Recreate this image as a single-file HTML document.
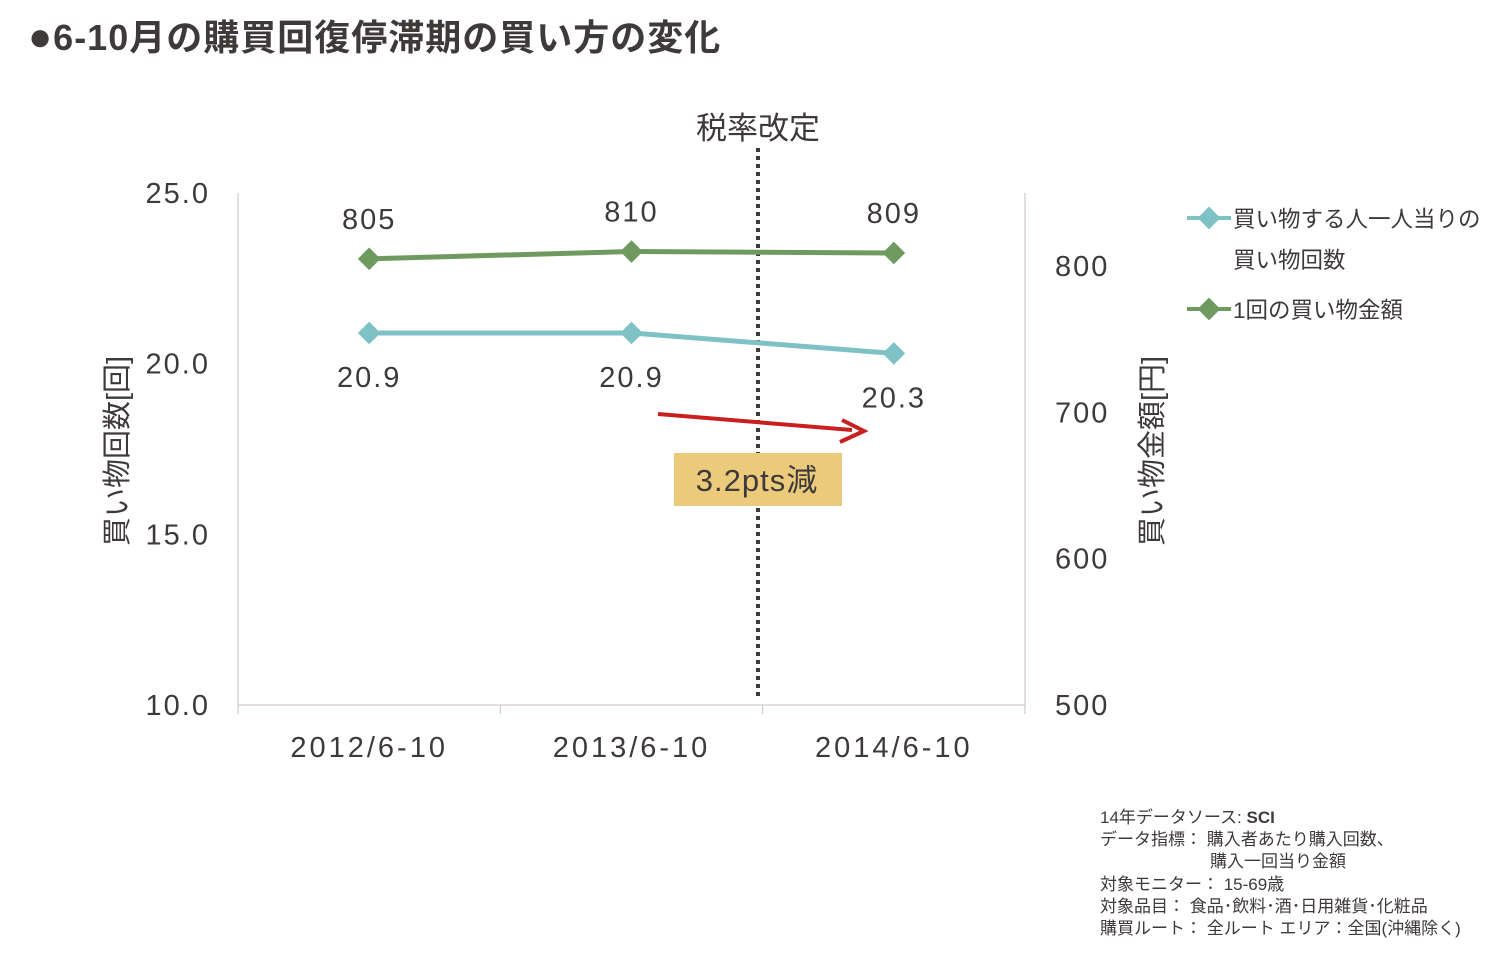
<!DOCTYPE html>
<html><head><meta charset="utf-8"><style>
body{margin:0;width:1497px;height:951px;background:#fff;overflow:hidden;font-family:"Liberation Sans","Noto Sans CJK JP",sans-serif;color:#3e3a39}
svg text{font-family:"Liberation Sans","Noto Sans CJK JP",sans-serif;fill:#3e3a39}
.num{letter-spacing:2px}
</style></head><body>
<svg id="c" width="1497" height="951">
<text x="28" y="50" font-size="36" font-weight="bold" fill="#3b2f2a" letter-spacing="1"><tspan font-size="40">●</tspan>6-10月の購買回復停滞期の買い方の変化</text>
<g id="g"></g>
<g font-size="17">
<text x="1100" y="823">14年データソース: <tspan font-weight="bold">SCI</tspan></text>
<text x="1100" y="845">データ指標： 購入者あたり購入回数、</text>
<text x="1210" y="867">購入一回当り金額</text>
<text x="1100" y="890">対象モニター： 15-69歳</text>
<text x="1100" y="912">対象品目： 食品･飲料･酒･日用雑貨･化粧品</text>
<text x="1100" y="934">購買ルート： 全ルート エリア：全国(沖縄除く)</text>
</g>
</svg>
<script>
const categories=["2012/6-10","2013/6-10","2014/6-10"];
const countValues=[20.9,20.9,20.3];
const amountValues=[805,810,809];
const leftTicks=[10,15,20,25];
const rightTicks=[500,600,700,800];
const L=238,R=1025,T=193,B=705;
const yL=v=>B-(v-10)/15*(B-T);
const yR=v=>B-(v-500)/350*(B-T);
const bw=(R-L)/categories.length;
const x=i=>L+bw*(i+0.5);
const g=document.getElementById('g');
const NS='http://www.w3.org/2000/svg';
function mk(t,a,txt){const e=document.createElementNS(NS,t);for(const k in a)e.setAttribute(k,a[k]);if(txt!==undefined)e.textContent=txt;g.appendChild(e);return e;}
let e;
e=mk('line',{x1:L,y1:T,x2:L,y2:B,stroke:'#c9bfbd'});


e=mk('line',{x1:R,y1:T,x2:R,y2:B,stroke:'#c9bfbd'});


e=mk('line',{x1:L,y1:B,x2:R,y2:B,stroke:'#c9bfbd'});


for(let i=0;i<=categories.length;i++){e=mk('line',{x1:L+bw*i,y1:B,x2:L+bw*i,y2:B+9,stroke:'#c9bfbd'});

}
categories.forEach((c,i)=>{e=mk('text',{x:x(i),y:757,'font-size':29,'text-anchor':'middle','letter-spacing':3},c);

});
leftTicks.forEach(v=>{e=mk('text',{x:210,y:yL(v)+10,'font-size':29,'text-anchor':'end','letter-spacing':2},v.toFixed(1));

});
rightTicks.forEach(v=>{e=mk('text',{x:1055,y:yR(v)+10,'font-size':29,'letter-spacing':2},String(v));

});
e=mk('text',{x:0,y:0,'font-size':29,'text-anchor':'middle',transform:'translate(127,451) rotate(-90)'},'買い物回数[回]');


e=mk('text',{x:0,y:0,'font-size':29,'text-anchor':'middle',transform:'translate(1162,451) rotate(-90)'},'買い物金額[円]');


e=mk('line',{x1:758,y1:148,x2:758,y2:700,stroke:'#3e3a39','stroke-width':4,'stroke-dasharray':'4 4'});


e=mk('text',{x:758,y:139,'font-size':31,'text-anchor':'middle',fill:'#000'},'税率改定');


function series(vals,yf,col,name,fmt,dy){
 e=mk('polyline',{points:vals.map((v,i)=>x(i)+','+yf(v)).join(' '),fill:'none',stroke:col,'stroke-width':5});
 
 
 vals.forEach((v,i)=>{
  e=mk('rect',{x:x(i)-8,y:yf(v)-8,width:16,height:16,fill:col,transform:`rotate(45 ${x(i)} ${yf(v)})`});
  
  
  e=mk('text',{x:x(i),y:yf(v)+dy,'font-size':29,'text-anchor':'middle','letter-spacing':2},fmt(v));
  
  
 });
}
series(countValues,yL,'#7fc2c5','count',v=>v.toFixed(1),54);
series(amountValues,yR,'#6f9a5f','amount',v=>String(v),-30);
e=mk('line',{x1:658,y1:414,x2:852,y2:430,stroke:'#c8201e','stroke-width':4});


e=mk('polyline',{points:'842,420 864,431 840,442',fill:'none',stroke:'#c8201e','stroke-width':4});


e=mk('rect',{x:674,y:453,width:168,height:53,fill:'#ecca7c'});


e=mk('text',{x:757,y:491,'font-size':31,'text-anchor':'middle','letter-spacing':1},'3.2pts減');


[['#7fc2c5',218,'買い物する人一人当りの'],['#6f9a5f',309,'1回の買い物金額']].forEach((l,i)=>{
 e=mk('line',{x1:1187,y1:l[1],x2:1231,y2:l[1],stroke:l[0],'stroke-width':4});
 
 
 e=mk('rect',{x:1201,y:l[1]-8,width:16,height:16,fill:l[0],transform:`rotate(45 1209 ${l[1]})`});
 
 
 e=mk('text',{x:1233,y:l[1]+9,'font-size':22.5},l[2]);
 
 
});
e=mk('text',{x:1233,y:268,'font-size':22.5},'買い物回数');


</script>
</body></html>
